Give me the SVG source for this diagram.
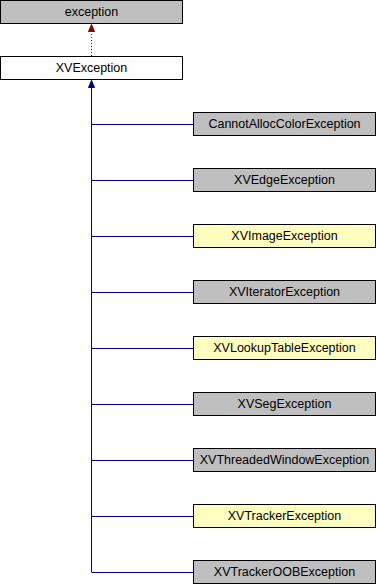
<svg xmlns="http://www.w3.org/2000/svg" width="376" height="584" viewBox="0 0 376 584">
  <style>
    .node rect { stroke: #000000; stroke-width: 1; }
    .doc rect { fill: #bfbfbf; }
    .undoc rect { fill: #ffffc0; }
    .plain rect { fill: #ffffff; }
    .node text { font-family: "Liberation Sans", Arial, sans-serif; font-size: 12.5px; text-anchor: middle; fill: #000000; }
    .pub { stroke: #000080; stroke-width: 1; fill: none; }
    .priv { stroke: #8b0000; stroke-width: 1; fill: none; stroke-dasharray: 1 2; }
  </style>
  <defs>
    <marker id="arrowBlue" markerWidth="8" markerHeight="8" refX="7" refY="3.5" orient="auto" markerUnits="userSpaceOnUse">
      <path d="M0,0.5 L7,3.5 L0,6.5 Z" fill="#000080" stroke="#000080"/>
    </marker>
    <marker id="arrowRed" markerWidth="8" markerHeight="8" refX="7" refY="3.5" orient="auto" markerUnits="userSpaceOnUse">
      <path d="M0,0.5 L7,3.5 L0,6.5 Z" fill="#8b0000" stroke="#8b0000"/>
    </marker>
  </defs>

  <g id="connectors">
    <line class="priv" x1="91.5" y1="56" x2="91.5" y2="24.5" marker-end="url(#arrowRed)"/>
    <line class="pub" x1="91.5" y1="572" x2="91.5" y2="80.5" marker-end="url(#arrowBlue)"/>
    <line class="pub" x1="91.5" y1="124.5" x2="193" y2="124.5"/>
    <line class="pub" x1="91.5" y1="180.5" x2="193" y2="180.5"/>
    <line class="pub" x1="91.5" y1="236.5" x2="193" y2="236.5"/>
    <line class="pub" x1="91.5" y1="292.5" x2="193" y2="292.5"/>
    <line class="pub" x1="91.5" y1="348.5" x2="193" y2="348.5"/>
    <line class="pub" x1="91.5" y1="404.5" x2="193" y2="404.5"/>
    <line class="pub" x1="91.5" y1="460.5" x2="193" y2="460.5"/>
    <line class="pub" x1="91.5" y1="516.5" x2="193" y2="516.5"/>
    <line class="pub" x1="91.5" y1="572.5" x2="193" y2="572.5"/>
  </g>

  <g id="exception" class="node doc">
    <rect x="0.5" y="0.5" width="182" height="23"/>
    <text x="91.5" y="16">exception</text>
  </g>
  <g id="XVException" class="node plain">
    <rect x="0.5" y="56.5" width="182" height="23"/>
    <text x="91.5" y="72">XVException</text>
  </g>
  <g id="CannotAllocColorException" class="node doc">
    <rect x="193.5" y="112.5" width="182" height="23"/>
    <text x="284.5" y="128">CannotAllocColorException</text>
  </g>
  <g id="XVEdgeException" class="node doc">
    <rect x="193.5" y="168.5" width="182" height="23"/>
    <text x="284.5" y="184">XVEdgeException</text>
  </g>
  <g id="XVImageException" class="node undoc">
    <rect x="193.5" y="224.5" width="182" height="23"/>
    <text x="284.5" y="240">XVImageException</text>
  </g>
  <g id="XVIteratorException" class="node doc">
    <rect x="193.5" y="280.5" width="182" height="23"/>
    <text x="284.5" y="296">XVIteratorException</text>
  </g>
  <g id="XVLookupTableException" class="node undoc">
    <rect x="193.5" y="336.5" width="182" height="23"/>
    <text x="284.5" y="352">XVLookupTableException</text>
  </g>
  <g id="XVSegException" class="node doc">
    <rect x="193.5" y="392.5" width="182" height="23"/>
    <text x="284.5" y="408">XVSegException</text>
  </g>
  <g id="XVThreadedWindowException" class="node doc">
    <rect x="193.5" y="448.5" width="182" height="23"/>
    <text x="284.5" y="464">XVThreadedWindowException</text>
  </g>
  <g id="XVTrackerException" class="node undoc">
    <rect x="193.5" y="504.5" width="182" height="23"/>
    <text x="284.5" y="520">XVTrackerException</text>
  </g>
  <g id="XVTrackerOOBException" class="node doc">
    <rect x="193.5" y="560.5" width="182" height="23"/>
    <text x="284.5" y="576">XVTrackerOOBException</text>
  </g>
</svg>
